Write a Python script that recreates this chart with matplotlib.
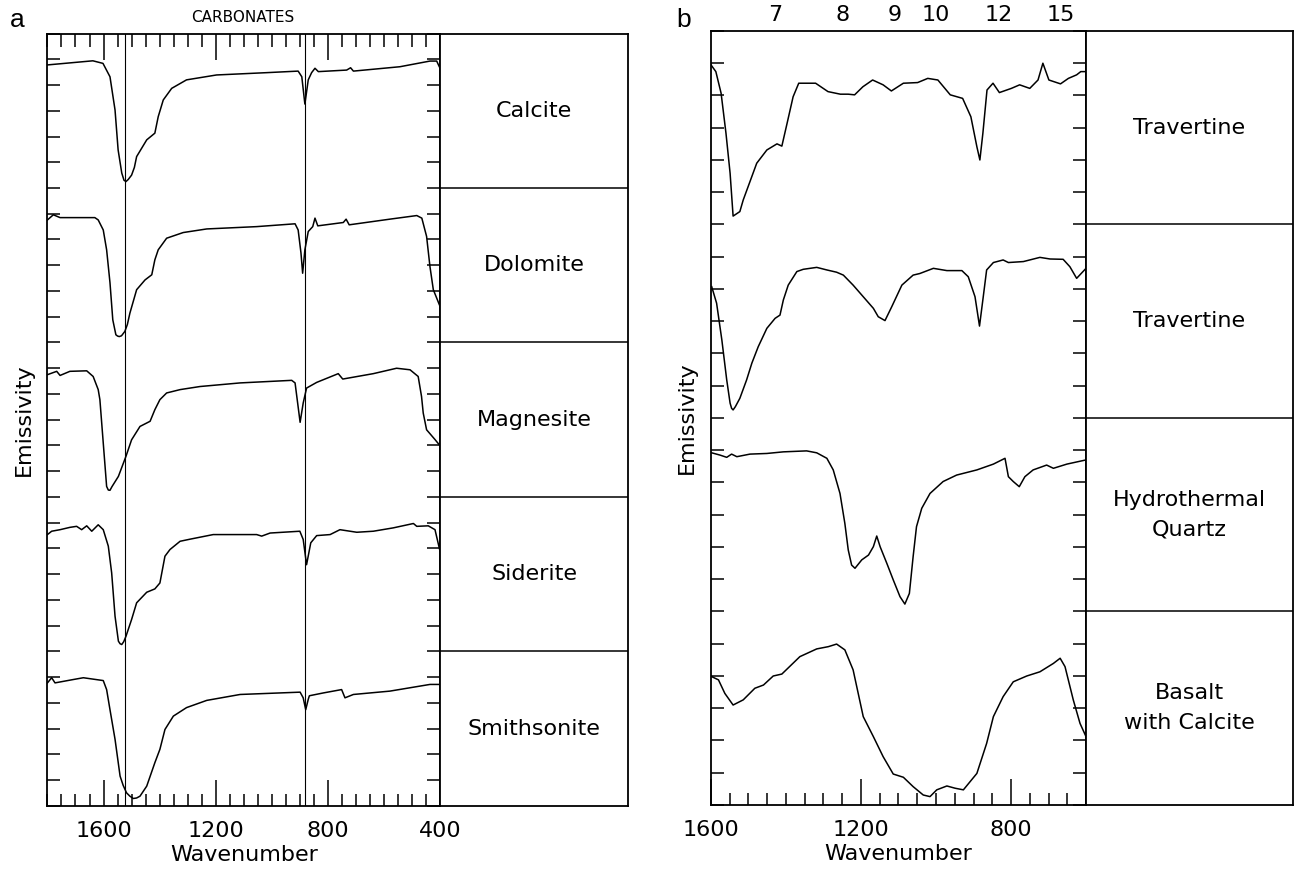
import numpy as np
import matplotlib
matplotlib.use("Agg")
import matplotlib.pyplot as plt
from matplotlib.ticker import MultipleLocator

plt.rcParams['font.family'] = ['DejaVu Sans']

# ---- panel a: carbonates (emissivity offset so each spectrum sits in a 6-unit band)
calcite_wn = [1800, 1638, 1602, 1577, 1559, 1548, 1535, 1527, 1520, 1512, 1500, 1490, 1482, 1446, 1417,
              1405, 1387, 1357, 1304, 1197, 1018, 906, 893, 882, 870, 858, 846, 834, 733, 719, 709, 543,
              436, 412, 400]
calcite_em = [28.78, 28.94, 28.84, 28.32, 27.03, 25.48, 24.58, 24.30, 24.25, 24.33, 24.50, 24.80, 25.22,
              25.87, 26.13, 26.77, 27.42, 27.87, 28.20, 28.39, 28.48, 28.54, 28.32, 27.26, 28.20, 28.48,
              28.65, 28.52, 28.58, 28.67, 28.54, 28.71, 28.93, 28.93, 28.65]

dolomite_wn = [1800, 1779, 1755, 1631, 1619, 1601, 1589, 1577, 1567, 1556, 1550, 1544, 1536, 1524, 1515,
               1506, 1482, 1452, 1428, 1417, 1405, 1375, 1316, 1232, 1054, 917, 906, 896, 890, 882, 870,
               854, 846, 836, 745, 735, 724, 579, 483, 465, 448, 436, 424, 400]
dolomite_em = [22.76, 22.96, 22.85, 22.85, 22.76, 22.37, 21.60, 20.32, 18.88, 18.30, 18.25, 18.23, 18.26,
               18.43, 18.70, 19.14, 20.05, 20.43, 20.63, 21.21, 21.60, 22.05, 22.27, 22.41, 22.50, 22.61,
               22.37, 21.48, 20.69, 21.60, 22.31, 22.50, 22.83, 22.53, 22.66, 22.79, 22.57, 22.79, 22.93,
               22.83, 22.12, 20.95, 20.05, 19.40]

magnesite_wn = [1800, 1767, 1755, 1720, 1660, 1637, 1619, 1613, 1589, 1583, 1577, 1570, 1547, 1520, 1500,
                1470, 1434, 1417, 1399, 1375, 1327, 1256, 1113, 929, 917, 899, 888, 876, 840, 763, 747,
                638, 555, 507, 478, 466, 460, 448, 418, 400]
magnesite_em = [16.75, 16.88, 16.72, 16.88, 16.90, 16.68, 16.17, 15.78, 12.41, 12.27, 12.26, 12.40, 12.80,
                13.58, 14.22, 14.74, 14.94, 15.39, 15.78, 16.04, 16.17, 16.29, 16.43, 16.53, 16.43, 14.90,
                15.65, 16.23, 16.45, 16.79, 16.58, 16.79, 17.00, 16.94, 16.68, 15.90, 15.26, 14.61, 14.23,
                13.99]

siderite_wn = [1800, 1785, 1755, 1720, 1696, 1678, 1660, 1642, 1619, 1601, 1583, 1571, 1559, 1547, 1541,
               1535, 1528, 1520, 1500, 1482, 1446, 1417, 1399, 1381, 1363, 1327, 1292, 1209, 1054, 1036,
               1006, 900, 888, 876, 861, 840, 792, 757, 697, 638, 567, 495, 483, 442, 418, 400]
siderite_em = [10.54, 10.67, 10.73, 10.82, 10.86, 10.73, 10.88, 10.67, 10.92, 10.73, 10.09, 9.05, 7.37,
               6.40, 6.30, 6.27, 6.38, 6.59, 7.24, 7.89, 8.30, 8.43, 8.66, 9.70, 9.96, 10.28, 10.36, 10.54,
               10.54, 10.48, 10.60, 10.67, 10.35, 9.37, 10.22, 10.50, 10.54, 10.73, 10.63, 10.67, 10.80,
               10.97, 10.86, 10.88, 10.73, 9.89]

smithsonite_wn = [1800, 1785, 1773, 1708, 1672, 1601, 1589, 1577, 1559, 1541, 1530, 1518, 1506, 1494,
                  1482, 1470, 1446, 1417, 1399, 1381, 1351, 1304, 1232, 1113, 899, 888, 879, 870, 866,
                  816, 751, 739, 709, 579, 436, 400]
smithsonite_em = [4.78, 4.98, 4.78, 4.91, 4.98, 4.87, 4.52, 3.74, 2.59, 1.16, 0.80, 0.51, 0.38, 0.29, 0.31,
                  0.38, 0.77, 1.68, 2.20, 2.97, 3.49, 3.82, 4.10, 4.33, 4.42, 4.20, 3.74, 4.14, 4.28, 4.39,
                  4.52, 4.20, 4.33, 4.46, 4.72, 4.72]

names_a = ["Calcite", "Dolomite", "Magnesite", "Siderite", "Smithsonite"]
lines_a = [1525, 880]

# ---- panel b: field samples
trav1_wn = [1600, 1587, 1573, 1560, 1549, 1541, 1523, 1514, 1478, 1451, 1424, 1411, 1397, 1381, 1366,
            1321, 1288, 1255, 1234, 1217, 1195, 1169, 1141, 1119, 1087, 1049, 1022, 995, 962, 929, 907,
            891, 883, 875, 864, 848, 831, 799, 777, 750, 728, 715, 699, 668, 647, 625, 614, 600]
trav1_em = [22.95, 22.74, 22.07, 20.83, 19.59, 18.26, 18.40, 18.76, 19.90, 20.31, 20.50, 20.43, 21.14,
            21.96, 22.38, 22.38, 22.12, 22.04, 22.04, 22.02, 22.27, 22.48, 22.33, 22.14, 22.38, 22.40,
            22.53, 22.48, 22.02, 21.91, 21.34, 20.41, 20.00, 20.83, 22.17, 22.38, 22.09, 22.22, 22.33,
            22.22, 22.48, 23.00, 22.48, 22.36, 22.53, 22.64, 22.74, 22.74]

trav2_wn = [1598, 1585, 1571, 1558, 1549, 1545, 1541, 1535, 1523, 1505, 1491, 1474, 1451, 1429, 1416,
            1407, 1394, 1371, 1354, 1318, 1291, 1265, 1247, 1221, 1194, 1167, 1154, 1136, 1118, 1091,
            1061, 1043, 1007, 971, 931, 914, 896, 884, 874, 865, 847, 821, 807, 767, 723, 696, 661, 643,
            625, 600]
trav2_em = [16.07, 15.56, 14.42, 13.18, 12.46, 12.30, 12.25, 12.35, 12.61, 13.18, 13.70, 14.21, 14.78,
            15.09, 15.19, 15.66, 16.12, 16.54, 16.61, 16.67, 16.59, 16.52, 16.43, 16.12, 15.76, 15.40,
            15.14, 15.02, 15.45, 16.12, 16.43, 16.48, 16.64, 16.57, 16.57, 16.38, 15.76, 14.85, 15.76,
            16.59, 16.82, 16.90, 16.82, 16.85, 16.98, 16.93, 16.92, 16.69, 16.33, 16.64]

quartz_wn = [1598, 1576, 1558, 1545, 1531, 1496, 1451, 1407, 1345, 1318, 1291, 1274, 1256, 1243, 1234,
             1225, 1216, 1198, 1180, 1167, 1158, 1149, 1131, 1114, 1096, 1083, 1071, 1061, 1052, 1038,
             1016, 981, 945, 891, 847, 816, 807, 794, 778, 763, 741, 705, 687, 651, 600]
quartz_em = [10.92, 10.85, 10.78, 10.88, 10.80, 10.88, 10.90, 10.95, 10.98, 10.92, 10.75, 10.39, 9.66,
             8.73, 7.91, 7.44, 7.34, 7.60, 7.75, 8.01, 8.34, 8.01, 7.49, 6.98, 6.46, 6.23, 6.56, 7.70,
             8.63, 9.20, 9.66, 10.03, 10.23, 10.39, 10.57, 10.75, 10.18, 10.03, 9.87, 10.18, 10.39,
             10.54, 10.44, 10.57, 10.70]

basalt_wn = [1598, 1580, 1563, 1541, 1514, 1483, 1460, 1434, 1411, 1363, 1318, 1287, 1265, 1243, 1221,
             1194, 1167, 1141, 1114, 1087, 1061, 1034, 1016, 998, 971, 949, 927, 891, 865, 847, 821,
             794, 758, 723, 687, 669, 656, 634, 616, 600]
basalt_em = [3.98, 3.88, 3.46, 3.10, 3.26, 3.62, 3.72, 4.00, 4.06, 4.60, 4.84, 4.91, 4.99, 4.81, 4.19,
             2.74, 2.12, 1.50, 0.96, 0.86, 0.57, 0.31, 0.26, 0.47, 0.59, 0.52, 0.47, 0.98, 1.91, 2.74,
             3.36, 3.82, 4.00, 4.13, 4.39, 4.55, 4.29, 3.26, 2.53, 2.12]

names_b = ["Travertine", "Travertine", "Hydrothermal\nQuartz", "Basalt\nwith Calcite"]
microns = [7, 8, 9, 10, 12, 15]


def style_axis(ax, xmin, xmax, ymax):
    ax.set_xlim(xmin, xmax)
    ax.set_ylim(0, ymax)
    ax.xaxis.set_major_locator(MultipleLocator(400))
    ax.xaxis.set_minor_locator(MultipleLocator(50))
    ax.yaxis.set_major_locator(MultipleLocator(1))
    ax.tick_params(which='both', direction='in', top=True, right=True, width=1.1)
    ax.tick_params(axis='x', which='major', length=19, labelsize=16, pad=11)
    ax.tick_params(axis='x', which='minor', length=9)
    ax.tick_params(axis='y', which='major', length=9.5, labelleft=False)
    for s in ax.spines.values():
        s.set_linewidth(1.3)
    ax.set_xlabel("Wavenumber", fontsize=16, labelpad=3)


def label_box(ax, names, band):
    n = len(names)
    ax.set_xlim(0, 1)
    ax.set_ylim(0, n * band)
    ax.set_xticks([])
    ax.set_yticks([])
    for s in ax.spines.values():
        s.set_linewidth(1.3)
    for i, name in enumerate(names):
        yc = (n - i - 0.5) * band
        ax.text(0.5, yc, name, ha='center', va='center', fontsize=16, linespacing=1.6)
        if i > 0:
            ax.axhline((n - i) * band, color='k', lw=1.1)


fig = plt.figure(figsize=(13, 8.75), dpi=100)

# panel a
ax1 = fig.add_axes([0.0365, 0.0789, 0.302, 0.8828])
style_axis(ax1, 1800, 400, 30)
for w in lines_a:
    ax1.axvline(w, color='k', lw=0.8)
for wn, em in [(calcite_wn, calcite_em), (dolomite_wn, dolomite_em), (magnesite_wn, magnesite_em),
               (siderite_wn, siderite_em), (smithsonite_wn, smithsonite_em)]:
    ax1.plot(wn, em, color='k', lw=1.1)
ax1.set_ylabel("Emissivity", fontsize=16, labelpad=10)
box1 = fig.add_axes([0.3385, 0.0789, 0.1446, 0.8828])
label_box(box1, names_a, 6)

# panel b
ax2 = fig.add_axes([0.5469, 0.08, 0.2885, 0.8846])
style_axis(ax2, 1600, 600, 24)
for wn, em in [(trav1_wn, trav1_em), (trav2_wn, trav2_em), (quartz_wn, quartz_em), (basalt_wn, basalt_em)]:
    ax2.plot(wn, em, color='k', lw=1.1)
ax2.set_ylabel("Emissivity", fontsize=16, labelpad=10)
top = ax2.twiny()
top.set_xlim(ax2.get_xlim())
top.set_xticks([1e4 / m for m in microns])
top.set_xticklabels([str(m) for m in microns], fontsize=16)
top.tick_params(axis='x', length=0, pad=4)
top.xaxis.set_minor_locator(plt.NullLocator())
for s in top.spines.values():
    s.set_visible(False)
box2 = fig.add_axes([0.8354, 0.08, 0.1592, 0.8846])
label_box(box2, names_b, 6)

fig.text(243 / 1300, 1 - 18 / 875, "CARBONATES", ha='center', va='center', fontsize=11)
fig.text(17 / 1300, 1 - 20 / 875, "a", ha='center', va='center', fontsize=19, family='Liberation Sans')
fig.text(684 / 1300, 1 - 20 / 875, "b", ha='center', va='center', fontsize=19, family='Liberation Sans')

fig.savefig("out.png", dpi=100)
